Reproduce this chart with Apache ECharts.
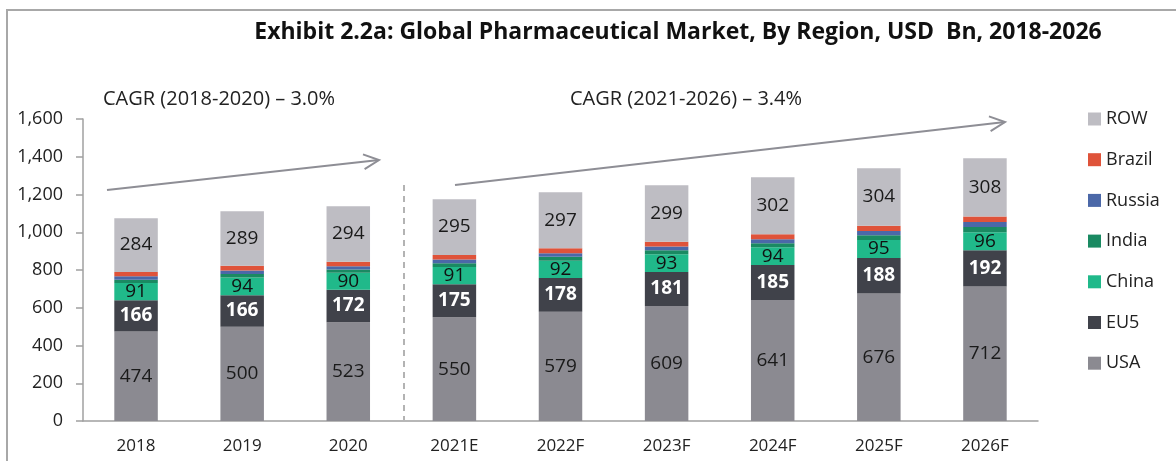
<!DOCTYPE html>
<html>
<head>
<meta charset="utf-8">
<script src="https://cdn.jsdelivr.net/npm/echarts@6/dist/echarts.min.js"></script>
<style>
  html, body { margin: 0; padding: 0; background: #fff; }
  #main { width: 1176px; height: 461px; }
</style>
</head>
<body>
<div id="main"></div>
<script>
const years = ['2018', '2019', '2020', '2021E', '2022F', '2023F', '2024F', '2025F', '2026F'];
const usa = [474, 500, 523, 550, 579, 609, 641, 676, 712];
const eu5 = [166, 166, 172, 175, 178, 181, 185, 188, 192];
const china = [91, 94, 90, 91, 92, 93, 94, 95, 96];
const india = [18, 19, 18, 20, 21, 21, 22, 25, 28];
const russia = [18, 19, 17, 19, 19, 20, 21, 23, 26];
const brazil = [23, 24, 24, 25, 26, 26, 26, 28, 30];
const row = [284, 289, 294, 295, 297, 299, 302, 304, 308];
const yTicks = [0, 200, 400, 600, 800, 1000, 1200, 1400, 1600];

const myChart = echarts.init(document.getElementById('main'));
const font = 'Open Sans';

// open chevron arrow for the CAGR annotations
function arrow(x1, y1, x2, y2) {
  const a = Math.atan2(y2 - y1, x2 - x1);
  const len = 17, spread = 0.45;
  const p1 = [x2 - len * Math.cos(a - spread), y2 - len * Math.sin(a - spread)];
  const p2 = [x2 - len * Math.cos(a + spread), y2 - len * Math.sin(a + spread)];
  const style = { stroke: '#8e8e95', lineWidth: 2, fill: null };
  return [
    { type: 'line', shape: { x1, y1, x2, y2 }, style },
    { type: 'polyline', shape: { points: [p1, [x2, y2], p2] }, style }
  ];
}

function bar(name, data, color, label) {
  return {
    name,
    type: 'bar',
    stack: 'total',
    barWidth: '41%',
    data,
    itemStyle: { color },
    label: label ? Object.assign({ show: true, position: 'inside', fontFamily: font, fontSize: 19 }, label) : { show: false }
  };
}

myChart.setOption({
  animation: false,
  textStyle: { fontFamily: font },
  title: {
    text: 'Exhibit 2.2a: Global Pharmaceutical Market, By Region, USD  Bn, 2018-2026',
    left: 673,
    top: 16,
    textAlign: 'center',
    textStyle: { fontFamily: font, fontSize: 23, fontWeight: 'bold', color: '#111' }
  },
  legend: {
    orient: 'vertical',
    left: 1083,
    top: 105,
    itemWidth: 13,
    itemHeight: 13,
    itemGap: 22.7,
    icon: 'rect',
    textStyle: { fontFamily: font, fontSize: 18, color: '#222', padding: [0, 0, 0, 0] },
    data: ['ROW', 'Brazil', 'Russia', 'India', 'China', 'EU5', 'USA']
  },
  grid: { left: 83, right: 138, top: 119, bottom: 40 },
  xAxis: {
    type: 'category',
    data: years,
    axisLine: { lineStyle: { color: '#a0a0a0', width: 1.5 } },
    axisTick: { length: 7, lineStyle: { color: '#a0a0a0', width: 1.5 } },
    axisLabel: { color: '#222', fontSize: 17, fontFamily: font, margin: 17 }
  },
  yAxis: {
    type: 'value',
    min: yTicks[0],
    max: yTicks[yTicks.length - 1],
    interval: 200,
    axisLine: { show: true, lineStyle: { color: '#a0a0a0', width: 1.5 } },
    axisTick: { show: true, length: 7, lineStyle: { color: '#a0a0a0', width: 1.5 } },
    splitLine: { show: false },
    axisLabel: {
      color: '#222', fontSize: 18, fontFamily: font, margin: 20,
      formatter: v => v.toLocaleString('en-US')
    }
  },
  series: [
    bar('USA', usa, '#8b8a91', { color: '#1a1a1a' }),
    bar('EU5', eu5, '#40424a', { color: '#fff', fontWeight: 'bold' }),
    bar('China', china, '#20b98a', { color: '#111' }),
    bar('India', india, '#1a8a62'),
    bar('Russia', russia, '#4b68a8'),
    bar('Brazil', brazil, '#df533a'),
    bar('ROW', row, '#bebdc3', { color: '#1a1a1a' })
  ],
  graphic: [
    // frame lines top and left
    { type: 'line', shape: { x1: 6, y1: 10, x2: 1176, y2: 10 }, style: { stroke: '#a8a8a8', lineWidth: 2 } },
    { type: 'line', shape: { x1: 7, y1: 10, x2: 7, y2: 461 }, style: { stroke: '#a8a8a8', lineWidth: 2 } },
    { type: 'text', left: 103, top: 89, style: { text: 'CAGR (2018-2020) \u2013 3.0%', font: '20px "Open Sans"', fill: '#222' } },
    { type: 'text', left: 570, top: 89, style: { text: 'CAGR (2021-2026) \u2013 3.4%', font: '20px "Open Sans"', fill: '#222' } },
    { type: 'line', shape: { x1: 404, y1: 185, x2: 404, y2: 420 }, style: { stroke: '#9a9a9a', lineWidth: 1.5, lineDash: [6, 5] } },
    ...arrow(107, 190, 379, 160),
    ...arrow(455, 185, 1005, 122)
  ]
});
</script>
</body>
</html>
